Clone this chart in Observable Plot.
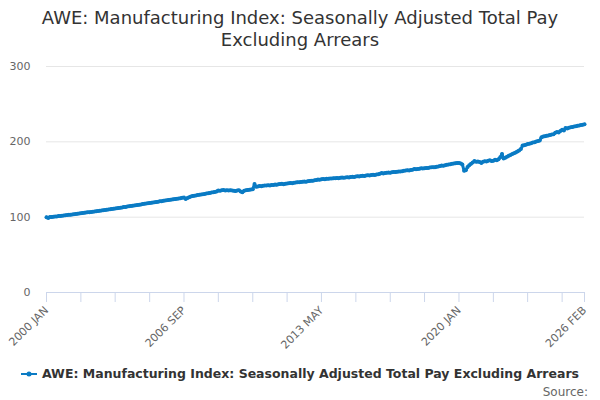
<!DOCTYPE html>
<html><head><meta charset="utf-8">
<script src="https://cdn.jsdelivr.net/npm/d3@7"></script>
<script src="https://cdn.jsdelivr.net/npm/@observablehq/plot@0.6"></script>
<style>
body{margin:0;width:600px;height:400px;overflow:hidden;font-family:"DejaVu Sans",sans-serif;background:#fff;position:relative}
#chart{position:absolute;top:0;left:0}
#title{position:absolute;top:7px;left:0;width:600px;text-align:center;font-size:18px;line-height:22px;color:#333}
#legend{position:absolute;top:366px;left:0;width:600px;text-align:center;font-size:12.5px;font-weight:bold;color:#333;white-space:nowrap}
#legend svg{vertical-align:middle;margin-right:5px;position:relative;top:-1px}
#source{position:absolute;top:385px;right:12px;font-size:12px;color:#666}
</style></head><body>
<div id="chart"></div>
<div id="title">AWE: Manufacturing Index: Seasonally Adjusted Total Pay<br>Excluding Arrears</div>
<div id="legend"><svg width="16" height="10"><line x1="0" y1="5" x2="16" y2="5" stroke="#0a7bc4" stroke-width="2"/><circle cx="8" cy="5" r="2.5" fill="#0a7bc4"/></svg>AWE: Manufacturing Index: Seasonally Adjusted Total Pay Excluding Arrears</div>
<div id="source">Source:</div>
<script>
const seriesName = "AWE: Manufacturing Index: Seasonally Adjusted Total Pay Excluding Arrears";
const startYear = 2000;
const values = [
  // 2000
  100.0, 98.9, 100.3, 100.1, 100.6, 100.9, 101.0, 101.4, 101.6, 101.9, 102.3, 102.5,
  // 2001
  102.8, 103.2, 103.3, 103.6, 104.0, 104.2, 104.6, 104.8, 105.2, 105.5, 105.7, 106.1,
  // 2002
  106.4, 106.6, 107.0, 107.3, 107.5, 107.9, 108.2, 108.4, 108.8, 109.1, 109.4, 109.8,
  // 2003
  110.1, 110.4, 110.9, 111.2, 111.5, 111.9, 112.3, 112.6, 112.9, 113.4, 113.6, 114.0,
  // 2004
  114.4, 114.7, 115.2, 115.5, 115.8, 116.3, 116.6, 116.9, 117.4, 117.7, 118.0, 118.5,
  // 2005
  118.8, 119.1, 119.6, 119.8, 120.2, 120.6, 121.0, 121.2, 121.7, 122.0, 122.3, 122.8,
  // 2006
  123.0, 123.4, 123.8, 124.1, 124.4, 124.9, 125.1, 125.9, 126.0, 124.2, 125.4, 126.4,
  // 2007
  127.5, 128.0, 128.3, 128.9, 129.3, 129.6, 130.2, 130.5, 130.9, 131.4, 131.7, 132.2,
  // 2008
  132.6, 133.0, 133.5, 134.2, 135.5, 135.2, 135.6, 135.9, 135.5, 135.8, 135.3, 135.6,
  // 2009
  135.4, 135.0, 134.6, 135.3, 135.8, 134.2, 133.0, 135.0, 135.6, 136.0, 136.5, 136.8,
  // 2010
  137.2, 144.0, 140.5, 140.8, 141.3, 141.0, 141.6, 141.9, 142.0, 142.3, 142.1, 142.6,
  // 2011
  142.8, 143.3, 143.0, 143.6, 143.9, 144.2, 143.8, 144.5, 144.7, 144.9, 145.3, 145.0,
  // 2012
  145.6, 145.9, 146.5, 146.2, 146.8, 147.1, 147.4, 146.9, 147.8, 148.1, 148.4, 148.2,
  // 2013
  148.9, 149.3, 150.0, 149.8, 150.3, 150.6, 150.4, 150.9, 151.1, 151.4, 151.2, 151.7,
  // 2014
  151.6, 152.0, 151.8, 152.3, 152.5, 152.2, 152.8, 153.0, 152.7, 153.3, 153.6, 153.4,
  // 2015
  153.9, 154.2, 154.0, 154.6, 155.0, 154.7, 155.3, 155.6, 155.2, 155.9, 156.3, 156.0,
  // 2016
  156.6, 157.0, 157.5, 158.5, 158.1, 158.6, 158.9, 159.3, 159.0, 159.6, 160.0, 159.8,
  // 2017
  160.3, 160.7, 160.5, 161.1, 161.5, 161.8, 162.2, 162.0, 162.6, 163.1, 164.0, 163.6,
  // 2018
  164.0, 164.3, 164.8, 164.5, 165.0, 165.4, 165.2, 165.8, 166.1, 166.4, 166.2, 166.9,
  // 2019
  167.3, 167.9, 168.6, 168.3, 169.0, 169.5, 170.0, 170.4, 170.9, 171.3, 171.7, 172.0,
  // 2020
  171.8, 171.2, 170.0, 161.5, 162.3, 166.5, 169.0, 170.8, 172.5, 174.4, 173.5, 174.0,
  // 2021
  173.2, 172.0, 173.6, 174.3, 173.8, 174.8, 175.4, 174.6, 175.0, 176.2, 175.6, 176.8,
  // 2022
  179.5, 184.0, 178.0, 179.0, 180.2, 181.4, 182.5, 183.7, 184.8, 186.0, 187.3, 188.6,
  // 2023
  190.5, 195.0, 195.6, 196.2, 197.0, 197.6, 198.2, 199.0, 199.6, 200.3, 201.0, 201.8,
  // 2024
  206.0, 207.0, 207.5, 208.0, 208.4, 209.0, 209.6, 210.0, 212.0, 213.0, 212.4, 214.5,
  // 2025
  216.0, 215.0, 218.5, 217.8, 218.6, 219.2, 219.8, 220.3, 220.7, 221.2, 221.8, 222.2,
  // 2026
  222.6, 223.2
];
const tickMonths = ["2000-01","2001-09","2003-05","2005-01","2006-09","2008-05","2010-01","2011-09","2013-05","2015-01","2016-09","2018-05","2020-01","2021-09","2023-05","2025-01","2026-02"];
const tickLabels = ["2000 JAN","","","","2006 SEP","","","","2013 MAY","","","","2020 JAN","","","","2026 FEB"];
const yTicks = [0, 100, 200, 300];

const parse = s => new Date(Date.UTC(+s.slice(0,4), +s.slice(5,7) - 1, 1));
const data = values.map((v, i) => ({date: new Date(Date.UTC(startYear, i, 1)), value: v}));
const tickDates = tickMonths.map(parse);
const labelMap = new Map(tickDates.map((d, i) => [+d, tickLabels[i]]));
const blue = "#0a7bc4";

const chart = Plot.plot({
  width: 600, height: 400,
  marginTop: 66, marginBottom: 108, marginLeft: 46, marginRight: 16,
  style: {fontFamily: "DejaVu Sans, sans-serif", fontSize: "11px", background: "transparent"},
  x: {type: "utc", domain: [data[0].date, data[data.length - 1].date]},
  y: {domain: [0, 300]},
  marks: [
    Plot.gridY(yTicks.filter(d => d > 0), {stroke: "#e6e6e6", strokeOpacity: 1}),
    Plot.axisY(yTicks, {tickSize: 0, tickPadding: 16, fill: "#666", fontSize: 11, label: null}),
    Plot.ruleY([0], {stroke: "#ccd6eb"}),
    Plot.axisX(tickDates, {tickSize: 10, stroke: "#ccd6eb", strokeOpacity: 1, tickRotate: -45, tickPadding: 6, fill: "#666", fontSize: 11, label: null, tickFormat: d => labelMap.get(+d) ?? ""}),
    Plot.line(data, {x: "date", y: "value", stroke: blue, strokeWidth: 3, strokeLinejoin: "round"}),
    Plot.dot(data, {x: "date", y: "value", r: 2, fill: blue})
  ]
});
document.getElementById("chart").appendChild(chart);
</script>
</body></html>
